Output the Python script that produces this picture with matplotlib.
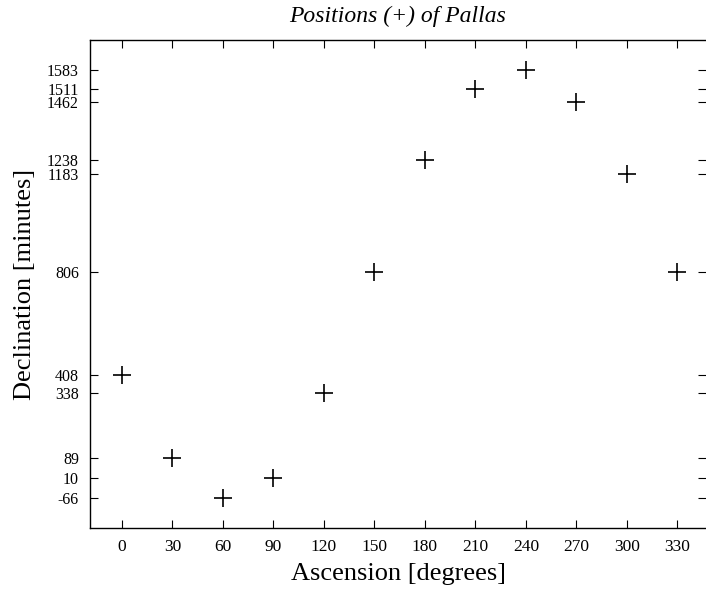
import matplotlib
matplotlib.use("Agg")
import matplotlib.pyplot as plt

# Ascension (degrees) vs declination (minutes) of Pallas
ascension = [0, 30, 60, 90, 120, 150, 180, 210, 240, 270, 300, 330]
declination = [408, 89, -66, 10, 338, 806, 1238, 1511, 1583, 1462, 1183, 806]

plt.rcParams['font.family'] = ['Liberation Serif', 'DejaVu Serif']
plt.rcParams['axes.unicode_minus'] = False

fig = plt.figure(figsize=(7.06, 5.90), dpi=100)
ax = fig.add_axes([0.1275, 0.105, 0.8725, 0.827])

ax.plot(ascension, declination, linestyle='none', marker='+', markersize=13,
        markeredgewidth=1.2, color='black')

ax.set_xlim(-19, 347)
ax.set_ylim(-182, 1699)
ax.set_xticks(ascension)
ax.set_yticks(sorted(set(declination)))

ax.spines['right'].set_visible(False)
for s in ['left', 'bottom', 'top']:
    ax.spines[s].set_linewidth(1.0)

ax.tick_params(axis='both', direction='in', length=6, width=0.8,
               labelsize=12.5, top=True, right=True, pad=8)
ax.tick_params(axis='y', labelsize=11.5)

ax.set_xlabel('Ascension [degrees]', fontsize=19, labelpad=6)
ax.set_ylabel('Declination [minutes]', fontsize=19, labelpad=8)
ax.set_title('Positions (+) of Pallas', fontsize=17, style='italic', pad=13)

fig.savefig('out.png', dpi=100)
